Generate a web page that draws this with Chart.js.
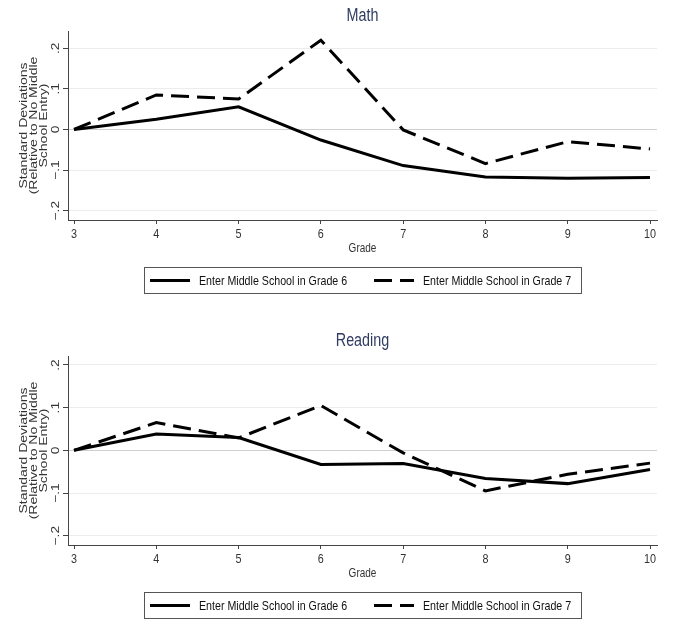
<!DOCTYPE html>
<html>
<head>
<meta charset="utf-8">
<script src="https://cdn.jsdelivr.net/npm/chart.js"></script>
<style>
  body { margin: 0; background: #fff; }
  canvas { position: absolute; left: 0; }
  #mathchart { top: 0; }
  #readchart { top: 325px; }
</style>
</head>
<body>
<canvas id="mathchart" width="681" height="325"></canvas>
<canvas id="readchart" width="681" height="302"></canvas>
<script>
// Start Data
const grades = [3, 4, 5, 6, 7, 8, 9, 10];
const seriesNames = ['Enter Middle School in Grade 6', 'Enter Middle School in Grade 7'];
const mathGrade6 = [0, 0.025, 0.056, -0.026, -0.089, -0.117, -0.120, -0.118];
const mathGrade7 = [0, 0.085, 0.075, 0.220, -0.001, -0.084, -0.030, -0.048];
const readGrade6 = [0, 0.038, 0.030, -0.033, -0.031, -0.066, -0.078, -0.045];
const readGrade7 = [0, 0.065, 0.029, 0.105, -0.006, -0.095, -0.056, -0.030];
const yTicks = [-0.2, -0.1, 0, 0.1, 0.2];
const xTitle = 'Grade';
const yTitle = ['Standard Deviations', '(Relative to No Middle', 'School Entry)'];
// End Data

Chart.defaults.font.family = "'Liberation Sans', Arial, sans-serif";
Chart.defaults.color = '#333';

function tickText(v) {
  if (Math.abs(v) < 1e-9) return '0';
  return (v < 0 ? '\u2212' : '') + '.' + Math.round(Math.abs(v) * 10);
}

// the picture is stretched up-down, so text is squeezed across its own width
function stretchText(ctx, text, x, y, size, align, rot, sx, sy) {
  ctx.save();
  ctx.translate(x, y);
  if (rot) ctx.rotate(rot);
  ctx.scale(sx, sy);
  ctx.font = size + "px 'Liberation Sans', Arial, sans-serif";
  ctx.textAlign = align;
  ctx.textBaseline = 'middle';
  ctx.fillText(text, 0, 0);
  ctx.restore();
}

// Start panel extras: titles, tick labels, boxed legend
const stataBits = {
  id: 'stataBits',
  afterDraw(chart, args, opts) {
    const ctx = chart.ctx, area = chart.chartArea;
    const xs = chart.scales.x, ys = chart.scales.y;
    const mid = (area.left + area.right) / 2;
    const up = -Math.PI / 2;
    ctx.save();

    ctx.fillStyle = '#2f3b62';
    stretchText(ctx, opts.title, mid, 16, 17.5, 'center', 0, 0.82, 1);

    ctx.fillStyle = '#333';
    ys.ticks.forEach(t => {
      stretchText(ctx, tickText(t.value), 56, ys.getPixelForValue(t.value), 11, 'center', up, 1.25, 1);
    });
    xs.ticks.forEach(t => {
      stretchText(ctx, String(t.value), xs.getPixelForValue(t.value), 234, 13.5, 'center', 0, 0.8, 1);
    });
    stretchText(ctx, xTitle, mid, 249, 12.5, 'center', 0, 0.8, 1);

    const ymid = (area.top + area.bottom) / 2;
    yTitle.forEach((line, i) => {
      stretchText(ctx, line, 23.5 + i * 10, ymid, 14, 'center', up, 1, 0.8);
    });

    ctx.strokeStyle = '#555';
    ctx.lineWidth = 1;
    ctx.strokeRect(144.5, 267.5, 437, 26);
    const lx = [150, 374];
    chart.data.datasets.forEach((ds, i) => {
      ctx.beginPath();
      ctx.setLineDash(ds.borderDash || []);
      ctx.strokeStyle = ds.borderColor;
      ctx.lineWidth = ds.borderWidth;
      ctx.moveTo(lx[i], 280.5);
      ctx.lineTo(lx[i] + 40, 280.5);
      ctx.stroke();
      ctx.setLineDash([]);
      ctx.fillStyle = '#111';
      stretchText(ctx, ds.label, lx[i] + 49, 281, 13, 'left', 0, 0.82, 1);
    });
    ctx.restore();
  }
};
// End panel extras

function makeChart(id, title, s6, s7, yMin, yMax) {
  const canvas = document.getElementById(id);
  return new Chart(canvas, {
    type: 'line',
    data: {
      datasets: [
        { label: seriesNames[0], data: grades.map((g, i) => ({ x: g, y: s6[i] })),
          borderColor: '#000', borderWidth: 3, pointRadius: 0, tension: 0 },
        { label: seriesNames[1], data: grades.map((g, i) => ({ x: g, y: s7[i] })),
          borderColor: '#000', borderWidth: 3, borderDash: [18, 8], pointRadius: 0, tension: 0 }
      ]
    },
    options: {
      responsive: false,
      animation: false,
      layout: { padding: { left: 0, right: 24, top: 31, bottom: canvas.height - 256 } },
      plugins: { legend: { display: false }, tooltip: { enabled: false }, stataBits: { title: title } },
      scales: {
        x: {
          type: 'linear', min: 2.927, max: 10.085,
          afterBuildTicks: s => { s.ticks = grades.map(v => ({ value: v })); },
          afterFit: s => { s.height = 36; },
          ticks: { display: false },
          grid: { drawOnChartArea: false, tickLength: 4, tickColor: '#444' },
          border: { color: '#444' }
        },
        y: {
          min: yMin, max: yMax,
          afterBuildTicks: s => { s.ticks = yTicks.map(v => ({ value: v })); },
          afterFit: s => { s.width = 68; },
          ticks: { display: false },
          grid: {
            color: c => (c.tick && Math.abs(c.tick.value) < 1e-9) ? '#cfcfcf' : '#ececec',
            tickLength: 5, tickColor: '#444'
          },
          border: { color: '#444' }
        }
      }
    },
    plugins: [stataBits]
  });
}

makeChart('mathchart', 'Math', mathGrade6, mathGrade7, -0.223, 0.2426);
makeChart('readchart', 'Reading', readGrade6, readGrade7, -0.2218, 0.221);
</script>
</body>
</html>
